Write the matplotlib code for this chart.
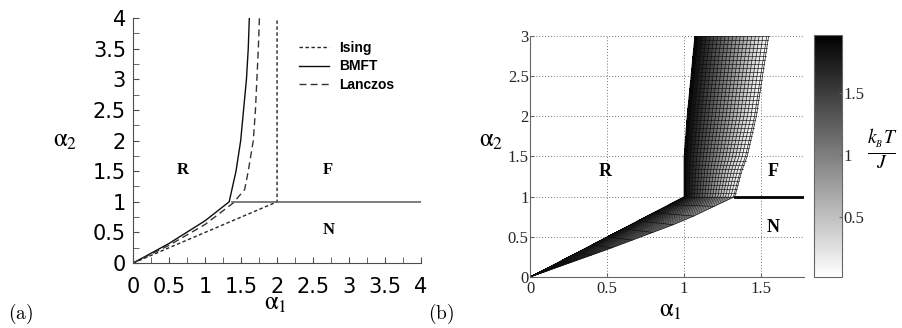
import matplotlib.pyplot as plt
import numpy as np
import matplotlib.ticker as ticker

plt.rcParams['mathtext.fontset'] = 'stix'

# ---- panel (a): phase boundaries ----
ising_x = [0, 2, 2]
ising_y = [0, 1, 4]
bmft_x = [0, 0.5, 1.0, 1.335, 1.43, 1.495, 1.535, 1.575, 1.60, 1.615]
bmft_y = [0, 0.32, 0.69, 1.0, 1.5, 2.0, 2.5, 3.0, 3.5, 4.0]
lanczos_x = [0, 0.5, 1.0, 1.39, 1.55, 1.60, 1.67, 1.70, 1.72, 1.74, 1.755]
lanczos_y = [0, 0.29, 0.63, 0.98, 1.2, 1.5, 2.0, 2.5, 3.0, 3.5, 4.0]
nf_x = [1.38, 4]
nf_y = [1, 1]

# ---- panel (b): Tc surface, boundary curves ----
left_low_x = [0, 0.5, 1.0]          # high-T edge, below alpha2 = 1
left_low_y = [0, 0.5, 1.0]
right_low_x = [0, 0.5, 1.0, 1.33]   # low-T edge, below alpha2 = 1
right_low_y = [0, 0.34, 0.70, 1.0]
up_a2 = [1.0, 1.33, 1.5, 2.0, 2.5, 3.0]
left_up_x = [1.0, 1.0, 1.0, 1.02, 1.045, 1.07]
right_up_x = [1.33, 1.377, 1.41, 1.47, 1.51, 1.55]
tc_levels = [1.97, 1.87, 1.77, 1.67, 1.57, 1.47, 1.37, 1.27, 1.17, 1.07, 0.97,
             0.87, 0.77, 0.67, 0.57, 0.47, 0.37, 0.27, 0.17, 0.07, 0.02]
b_line_x = [1.33, 1.78]
b_line_y = [1, 1]

fig = plt.figure(figsize=(9.02, 3.28), dpi=100)

# ================= (a) =================
ax1 = fig.add_axes([0.1475, 0.198, 0.3193, 0.747])
ax1.plot(ising_x, ising_y, color='0.15', lw=1, dashes=(2.5, 1.8), label='Ising')
ax1.plot(bmft_x, bmft_y, color='0.05', lw=1, label='BMFT')
ax1.plot(lanczos_x, lanczos_y, color='0.2', lw=1, dashes=(5, 3), label='Lanczos')
ax1.plot(nf_x, nf_y, color='0.35', lw=1.1)
ax1.set_xlim(0, 4)
ax1.set_ylim(0, 4)
for s in ['top', 'right']:
    ax1.spines[s].set_visible(False)
for s in ['left', 'bottom']:
    ax1.spines[s].set_color('0.3')
ax1.xaxis.set_major_locator(ticker.MultipleLocator(0.5))
ax1.yaxis.set_major_locator(ticker.MultipleLocator(0.5))
ax1.xaxis.set_minor_locator(ticker.MultipleLocator(0.25))
ax1.yaxis.set_minor_locator(ticker.MultipleLocator(0.25))
ax1.xaxis.set_major_formatter(ticker.FuncFormatter(lambda v, p: '%g' % v))
ax1.yaxis.set_major_formatter(ticker.FuncFormatter(lambda v, p: '%g' % v))
ax1.tick_params(which='both', direction='in', length=4, color='0.3')
ax1.tick_params(axis='x', pad=10)
ax1.tick_params(axis='y', pad=5)
for lab in ax1.get_xticklabels() + ax1.get_yticklabels():
    lab.set_fontfamily('DejaVu Sans')
    lab.set_fontsize(15)
leg = ax1.legend(loc='upper left', bbox_to_anchor=(0.575, 0.905), frameon=False,
                 borderpad=0, borderaxespad=0, handlelength=2.2, handletextpad=0.7,
                 labelspacing=0.3, prop={'family': 'Liberation Sans', 'weight': 'bold', 'size': 10})
for txt, x, y in [('R', 0.69, 1.52), ('F', 2.7, 1.52), ('N', 2.72, 0.54)]:
    ax1.text(x, y, txt, family='Liberation Serif', weight='bold', fontsize=12,
             ha='center', va='center')
fig.text(65 / 902, 1 - 140 / 328, r'$\mathrm{\alpha}_2$', fontsize=18, ha='center', va='center')
fig.text(275 / 902, 1 - 303 / 328, r'$\mathrm{\alpha}_1$', fontsize=18, ha='center', va='center')
fig.text(21 / 902, 1 - 314 / 328, r'$\mathrm{(a)}$', math_fontfamily='cm', fontsize=14,
         ha='center', va='center')
fig.text(441 / 902, 1 - 314 / 328, r'$\mathrm{(b)}$', math_fontfamily='cm', fontsize=14,
         ha='center', va='center')

# ================= (b) =================
ax2 = fig.add_axes([0.5876, 0.1555, 0.3038, 0.7348])

# build the quad mesh: columns = Tc levels, rows run along each boundary curve
f = (tc_levels[0] - np.array(tc_levels)) / (tc_levels[0] - tc_levels[-1])
s_low = np.linspace(0, 1, 11)
a2_up = np.linspace(1, 3, 41)[1:]
xl_low = s_low * left_low_x[-1]
yl_low = np.interp(xl_low, left_low_x, left_low_y)
xr_low = s_low * right_low_x[-1]
yr_low = np.interp(xr_low, right_low_x, right_low_y)
xl_up = np.interp(a2_up, up_a2, left_up_x)
xr_up = np.interp(a2_up, up_a2, right_up_x)
xl = np.concatenate([xl_low, xl_up])
yl = np.concatenate([yl_low, a2_up])
xr = np.concatenate([xr_low, xr_up])
yr = np.concatenate([yr_low, a2_up])
X = xl[:, None] * (1 - f[None, :]) + xr[:, None] * f[None, :]
Y = yl[:, None] * (1 - f[None, :]) + yr[:, None] * f[None, :]
tc = np.array(tc_levels)
C = np.tile(0.5 * (tc[:-1] + tc[1:]), (X.shape[0] - 1, 1))

mesh = ax2.pcolormesh(X, Y, C, cmap='gray_r', vmin=0.02, vmax=1.97, shading='flat',
                      edgecolors='none', antialiased=False, zorder=2)
# wire frame of the surface
for j in range(X.shape[1]):
    ax2.plot(X[:, j], Y[:, j], color='0.05', lw=0.45, zorder=2.5)
for i in range(X.shape[0]):
    ax2.plot(X[i, :], Y[i, :], color='0.05', lw=0.45, zorder=2.5)
ax2.plot(b_line_x, b_line_y, color='k', lw=2, zorder=3)
ax2.set_xlim(0, 1.78)
ax2.set_ylim(0, 3)
ax2.set_xticks([0, 0.5, 1, 1.5])
ax2.set_yticks([0, 0.5, 1, 1.5, 2, 2.5, 3])
ax2.xaxis.set_major_formatter(ticker.FuncFormatter(lambda v, p: '%g' % v))
ax2.yaxis.set_major_formatter(ticker.FuncFormatter(lambda v, p: '%g' % v))
ax2.grid(True, color='0.45', linestyle=(0, (1, 2)), linewidth=0.7, zorder=1)
ax2.set_axisbelow(True)
for s in ['top', 'right']:
    ax2.spines[s].set_visible(False)
for s in ['left', 'bottom']:
    ax2.spines[s].set_color('0.4')
ax2.tick_params(direction='in', length=3, color='0.4', labelsize=12, labelcolor='0.15')
ax2.tick_params(axis='x', pad=3)
ax2.tick_params(axis='y', pad=1)
for lab in ax2.get_xticklabels() + ax2.get_yticklabels():
    lab.set_fontfamily('Liberation Serif')
for txt, x, y in [('R', 0.49, 1.31), ('F', 1.58, 1.31), ('N', 1.58, 0.62)]:
    ax2.text(x, y, txt, family='Liberation Serif', weight='bold', fontsize=13,
             ha='center', va='center')
fig.text(491 / 902, 1 - 140 / 328, r'$\mathrm{\alpha}_2$', fontsize=18, ha='center', va='center')
fig.text(670 / 902, 1 - 310 / 328, r'$\mathrm{\alpha}_1$', fontsize=18, ha='center', va='center')

cax = fig.add_axes([0.9024, 0.1555, 0.031, 0.738])
cb = fig.colorbar(mesh, cax=cax, ticks=[0.5, 1, 1.5])
cb.ax.set_yticklabels(['0.5', '1', '1.5'])
cb.outline.set_edgecolor('0.4')
cb.ax.tick_params(direction='in', length=2, color='0.4', labelsize=12, labelcolor='0.15', pad=1)
for lab in cb.ax.get_yticklabels():
    lab.set_fontfamily('Liberation Serif')
fig.text(882 / 902, 1 - 150 / 328, r'$\frac{k_{_B}T}{J}$', fontsize=20, ha='center', va='center')

plt.savefig('out.png', dpi=100)
